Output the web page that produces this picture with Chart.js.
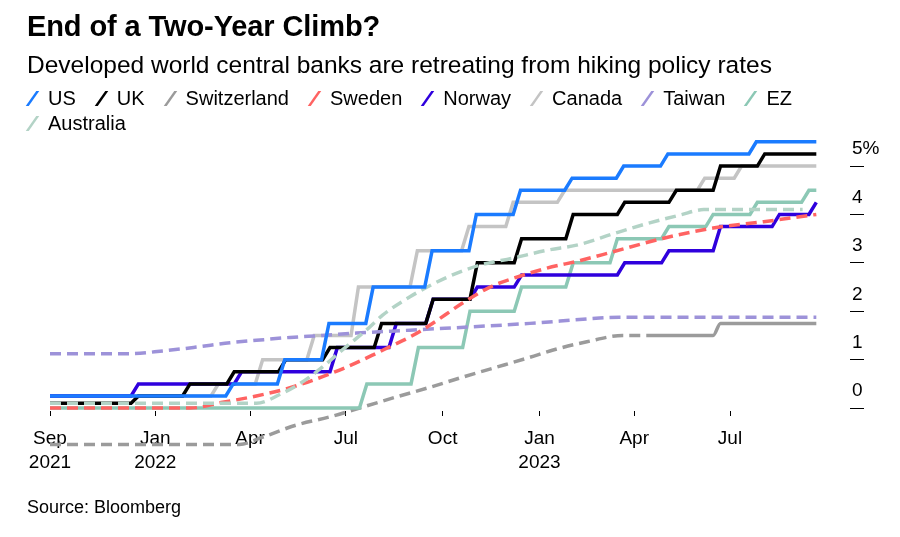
<!DOCTYPE html>
<html>
<head>
<meta charset="utf-8">
<script src="https://cdn.jsdelivr.net/npm/chart.js@4.4.0/dist/chart.umd.min.js"></script>
<style>
    html, body { margin: 0; padding: 0; background: #fff; }
    body { width: 900px; height: 537px; position: relative; overflow: hidden;
           font-family: "Liberation Sans", Arial, sans-serif; color: #000; }
    #chart { position: absolute; left: 0; top: 0; }
    .txt { position: absolute; left: 27px; line-height: 1; white-space: nowrap; }
    #title { top: 12px; font-size: 29px; font-weight: bold; letter-spacing: -0.1px; }
    #subtitle { top: 53px; font-size: 24.5px; }
    #legend { position: absolute; left: 27px; top: 86px; width: 820px; display: flex; flex-wrap: wrap;
              column-gap: 20px; font-size: 20px; line-height: 25px; }
    .item { display: flex; align-items: center; }
    .mark { display: inline-block; width: 3px; height: 15px; margin: 0 14px 0 4px; transform: skewX(-35deg); }
    #source { top: 498px; font-size: 18px; }
</style>
</head>
<body>
<canvas id="chart" width="900" height="537"></canvas>
<div id="title" class="txt">End of a Two-Year Climb?</div>
<div id="subtitle" class="txt">Developed world central banks are retreating from hiking policy rates</div>
<div id="legend"></div>
<div id="source" class="txt">Source: Bloomberg</div>

<script>
    // ---- data -------------------------------------------------------------
    var startDate = '2021-09-23';
    var endDate = '2023-09-21';
    var axisEnd = '2023-10-23';

    // stepped series: date of each rate change and the new rate
    var usDates = ['2021-09-23', '2022-03-16', '2022-05-04', '2022-06-15', '2022-07-27', '2022-09-21',
                   '2022-11-02', '2022-12-14', '2023-02-01', '2023-03-22', '2023-05-03', '2023-07-26'];
    var usRates = [0.25, 0.5, 1.0, 1.75, 2.5, 3.25, 4.0, 4.5, 4.75, 5.0, 5.25, 5.5];

    var ukDates = ['2021-09-23', '2021-12-16', '2022-02-03', '2022-03-17', '2022-05-05', '2022-06-16',
                   '2022-08-04', '2022-09-22', '2022-11-03', '2022-12-15', '2023-02-02', '2023-03-23',
                   '2023-05-11', '2023-06-22', '2023-08-03'];
    var ukRates = [0.1, 0.25, 0.5, 0.75, 1.0, 1.25, 1.75, 2.25, 3.0, 3.5, 4.0, 4.25, 4.5, 5.0, 5.25];

    var norwayDates = ['2021-09-23', '2021-12-16', '2022-03-24', '2022-06-23', '2022-08-18', '2022-09-22',
                       '2022-11-03', '2022-12-15', '2023-03-23', '2023-05-04', '2023-06-22', '2023-08-17',
                       '2023-09-21'];
    var norwayRates = [0.25, 0.5, 0.75, 1.25, 1.75, 2.25, 2.5, 2.75, 3.0, 3.25, 3.75, 4.0, 4.25];

    var canadaDates = ['2021-09-23', '2022-03-02', '2022-04-13', '2022-06-01', '2022-07-13', '2022-09-07',
                       '2022-10-26', '2022-12-07', '2023-01-25', '2023-06-07', '2023-07-12'];
    var canadaRates = [0.25, 0.5, 1.0, 1.5, 2.5, 3.25, 3.75, 4.25, 4.5, 4.75, 5.0];

    var ezDates = ['2021-09-23', '2022-07-21', '2022-09-08', '2022-10-27', '2022-12-15', '2023-02-02',
                   '2023-03-16', '2023-05-04', '2023-06-15', '2023-07-27', '2023-09-14'];
    var ezRates = [0, 0.5, 1.25, 2.0, 2.5, 3.0, 3.5, 3.75, 4.0, 4.25, 4.5];

    // smoothed (dashed) series
    var swedenDates = ['2021-09-23', '2022-02-03', '2022-03-06', '2022-04-07', '2022-05-09', '2022-06-09',
                       '2022-07-02', '2022-07-27', '2022-08-12', '2022-08-31', '2022-09-18', '2022-10-20',
                       '2022-11-15', '2022-12-07', '2023-01-08', '2023-02-09', '2023-03-12', '2023-04-29',
                       '2023-06-15', '2023-08-02', '2023-09-21'];
    var swedenRates = [0, 0, 0.12, 0.25, 0.42, 0.65, 0.85, 1.1, 1.27, 1.47, 1.7, 2.17,
                       2.5, 2.68, 2.89, 3.05, 3.23, 3.51, 3.72, 3.85, 4.0];

    var australiaDates = ['2021-09-23', '2022-04-07', '2022-05-01', '2022-05-18', '2022-06-09', '2022-06-25',
                          '2022-07-21', '2022-08-05', '2022-08-31', '2022-10-05', '2022-11-05', '2022-12-07',
                          '2023-01-08', '2023-02-08', '2023-03-12', '2023-04-13', '2023-05-15', '2023-06-06',
                          '2023-09-08'];
    var australiaRates = [0.1, 0.1, 0.3, 0.5, 0.85, 1.15, 1.62, 1.92, 2.3, 2.7, 2.95, 3.1,
                          3.26, 3.38, 3.6, 3.81, 3.99, 4.1, 4.1];

    var taiwanDates = ['2021-09-23', '2021-12-08', '2022-01-08', '2022-02-09', '2022-03-13', '2022-04-07',
                       '2022-05-09', '2022-06-09', '2022-07-11', '2022-08-31', '2022-12-23', '2023-02-27',
                       '2023-03-18', '2023-09-21'];
    var taiwanRates = [1.125, 1.125, 1.18, 1.26, 1.35, 1.4, 1.46, 1.5, 1.55, 1.61, 1.75, 1.86,
                       1.875, 1.875];

    // Switzerland: dashed smooth part up to swissDashEnd, solid afterwards
    var swissDates = ['2021-09-23', '2022-03-22', '2022-04-13', '2022-05-15', '2022-06-16', '2022-07-17',
                      '2022-08-18', '2022-09-19', '2022-10-20', '2022-11-22', '2022-12-23', '2023-01-14',
                      '2023-02-15', '2023-03-21', '2023-04-16', '2023-06-15', '2023-06-22', '2023-09-21'];
    var swissRates = [-0.75, -0.75, -0.6, -0.35, -0.18, 0.02, 0.23, 0.43, 0.64, 0.85, 1.05, 1.2,
                      1.37, 1.5, 1.5, 1.5, 1.75, 1.75];
    var swissDashEnd = '2023-04-16';

    var xTickDates = ['2021-09-23', '2022-01-01', '2022-04-01', '2022-07-01', '2022-10-01',
                      '2023-01-01', '2023-04-01', '2023-07-01'];
    var xTickLabels = [['Sep', '2021'], ['Jan', '2022'], 'Apr', 'Jul', 'Oct', ['Jan', '2023'], 'Apr', 'Jul'];
    var yTicks = [0, 1, 2, 3, 4, 5];

    // ---- helpers ----------------------------------------------------------
    function day(s) {
        var p = s.split('-').map(Number);
        var p0 = startDate.split('-').map(Number);
        return (Date.UTC(p[0], p[1] - 1, p[2]) - Date.UTC(p0[0], p0[1] - 1, p0[2])) / 86400000;
    }

    // rate changes drawn as short slanted steps (weekly data)
    function stepPoints(dates, rates) {
        var pts = [{ x: day(dates[0]), y: rates[0] }];
        for (var i = 1; i < dates.length; i++) {
            var d = day(dates[i]);
            pts.push({ x: d - 7, y: rates[i - 1] });
            pts.push({ x: d, y: rates[i] });
        }
        pts.push({ x: day(endDate), y: rates[rates.length - 1] });
        return pts;
    }

    function readPoints(dates, rates) {
        var pts = [];
        for (var i = 0; i < dates.length; i++) pts.push({ x: day(dates[i]), y: rates[i] });
        return pts;
    }

    var DASH = [11, 6];

    function stepSet(label, color, dates, rates, order) {
        return { label: label, data: stepPoints(dates, rates), borderColor: color, borderWidth: 3.5,
                 tension: 0, order: order, clip: false };
    }
    function smoothSet(label, color, dates, rates, order) {
        return { label: label, data: readPoints(dates, rates), borderColor: color, borderWidth: 3.5,
                 borderDash: DASH, cubicInterpolationMode: 'monotone', order: order, clip: false };
    }

    var swissSet = smoothSet('Switzerland', '#9b9b9b', swissDates, swissRates, 8);
    swissSet.borderDash = undefined;
    swissSet.segment = {
        borderDash: function (ctx) { return ctx.p0.parsed.x < day(swissDashEnd) ? DASH : []; }
    };

    var datasets = [
        stepSet('US', '#1a7bff', usDates, usRates, 0),
        stepSet('UK', '#000000', ukDates, ukRates, 4),
        swissSet,
        smoothSet('Sweden', '#ff6362', swedenDates, swedenRates, 2),
        stepSet('Norway', '#2f00dd', norwayDates, norwayRates, 5),
        stepSet('Canada', '#c4c4c4', canadaDates, canadaRates, 6),
        smoothSet('Taiwan', '#9d92d9', taiwanDates, taiwanRates, 3),
        stepSet('EZ', '#8cc8b5', ezDates, ezRates, 7),
        smoothSet('Australia', '#b3d3c6', australiaDates, australiaRates, 1)
    ];

    // ---- legend -----------------------------------------------------------
    var legendEl = document.getElementById('legend');
    datasets.forEach(function (ds) {
        var item = document.createElement('div');
        item.className = 'item';
        item.innerHTML = '<span class="mark" style="background:' + ds.borderColor + '"></span>' + ds.label;
        legendEl.appendChild(item);
    });

    // ---- chart ------------------------------------------------------------
    var xTickValues = xTickDates.map(day);

    new Chart(document.getElementById('chart').getContext('2d'), {
        type: 'line',
        data: { datasets: datasets },
        options: {
            responsive: false,
            animation: false,
            devicePixelRatio: 1,
            layout: { padding: { left: 50, top: 137, right: 0, bottom: 0 } },
            elements: { point: { radius: 0 }, line: { borderCapStyle: 'butt' } },
            plugins: { legend: { display: false }, tooltip: { enabled: false } },
            scales: {
                x: {
                    type: 'linear',
                    min: day(startDate),
                    max: day(axisEnd),
                    border: { display: false },
                    grid: { drawOnChartArea: false, drawTicks: true, tickLength: 5, color: '#000' },
                    afterBuildTicks: function (scale) {
                        scale.ticks = xTickValues.map(function (v) { return { value: v }; });
                    },
                    afterFit: function (scale) { scale.height = 126; },
                    ticks: {
                        autoSkip: false, maxRotation: 0, padding: 10, color: '#000',
                        font: { family: '"Liberation Sans", Arial, sans-serif', size: 19, lineHeight: 1.3 },
                        callback: function (value, index) { return xTickLabels[index]; }
                    }
                },
                y: {
                    position: 'right',
                    min: -0.06,
                    max: 5.6,
                    border: { display: false },
                    grid: { drawOnChartArea: false, drawTicks: true, tickLength: 14, color: '#000' },
                    afterBuildTicks: function (scale) {
                        scale.ticks = yTicks.map(function (v) { return { value: v }; });
                    },
                    afterFit: function (scale) { scale.width = 50; },
                    ticks: {
                        padding: -12, labelOffset: -17, color: '#000',
                        font: { family: '"Liberation Sans", Arial, sans-serif', size: 19 },
                        callback: function (v) { return v === 5 ? '5%' : String(v); }
                    }
                }
            }
        }
    });
</script>
</body>
</html>
